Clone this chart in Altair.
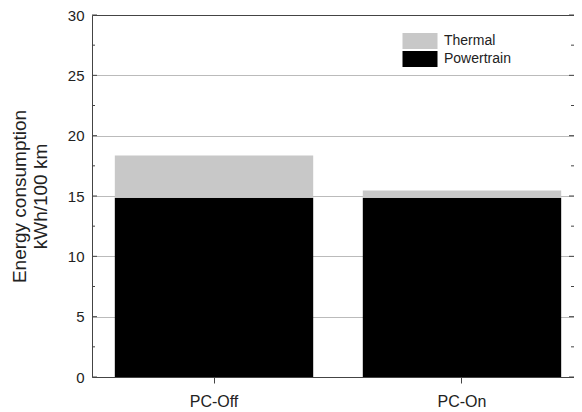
import altair as alt
import pandas as pd

categories = ["PC-Off", "PC-On"]
powertrain = [14.85, 14.85]
thermal = [3.5, 0.6]
components = ["Thermal", "Powertrain"]
colors = ["#c8c8c8", "#000000"]
y_major = [0, 5, 10, 15, 20, 25, 30]
y_minor = [2.5, 7.5, 12.5, 17.5, 22.5, 27.5]

rows = []
for c, p, t in zip(categories, powertrain, thermal):
    rows.append({"case": c, "component": "Powertrain", "value": p, "ord": 0})
    rows.append({"case": c, "component": "Thermal", "value": t, "ord": 1})
bars_df = pd.DataFrame(rows)
major_df = pd.DataFrame({"value": y_major})
minor_df = pd.DataFrame({"value": y_minor})

W, H = 482, 362
XRANGE = 492
FONT = "Liberation Sans"
AX = "#444444"
TXT = "#222222"

yscale = alt.Scale(domain=[0, 30], nice=False, zero=True)
yaxis = alt.Axis(
    values=y_major,
    title=["Energy consumption", "kWh/100 km"],
    titleFont=FONT, titleFontSize=19, titleFontWeight="normal",
    titleColor=TXT, titlePadding=17, titleLineHeight=21,
    labelFont=FONT, labelFontSize=15, labelColor=TXT, labelPadding=8,
    ticks=False, domainColor=AX, grid=True,
    gridColor={"condition": {"test": "datum.value === 30", "value": AX}, "value": "#bbbbbb"},
)

bars = alt.Chart(bars_df).mark_bar().encode(
    x=alt.X(
        "case:N",
        sort=categories,
        scale=alt.Scale(paddingInner=0.2, paddingOuter=0.092, range=[0, XRANGE]),
        axis=alt.Axis(
            title=None, labelAngle=0, labelFont=FONT, labelFontSize=16,
            labelColor=TXT, labelPadding=10, tickSize=6, tickColor=AX,
            domainColor=AX, grid=False, zindex=1,
        ),
    ),
    y=alt.Y("value:Q", stack="zero", scale=yscale, axis=yaxis),
    color=alt.Color(
        "component:N",
        scale=alt.Scale(domain=components, range=colors),
        legend=alt.Legend(
            title=None, orient="none", legendX=318, legendY=16,
            symbolType="M-1.75,-0.8H1.75V0.8H-1.75Z", symbolSize=400,
            symbolStrokeWidth=0, symbolOpacity=1,
            labelFont=FONT, labelFontSize=14, labelColor=TXT,
            labelOffset=14, rowPadding=0, padding=0,
        ),
    ),
    order=alt.Order("ord:Q"),
)

def tick_layer(df, x1, x2):
    return alt.Chart(df).mark_rule(color=AX, strokeWidth=1).encode(
        y=alt.Y("value:Q", scale=yscale, axis=yaxis),
        x=alt.value(x1),
        x2=alt.value(x2),
    )

chart = alt.layer(
    bars,
    tick_layer(major_df, 0, 5),
    tick_layer(minor_df, 0, 3),
    tick_layer(major_df, W - 5, W),
    tick_layer(minor_df, W - 3, W),
).properties(
    width=W,
    height=H,
    autosize=alt.AutoSizeParams(type="none"),
    padding={"left": 84, "top": 7, "right": 0, "bottom": 34},
    background="white",
).configure_view(stroke=None)

chart.save("out.html", embed_options={"renderer": "svg", "actions": False})
